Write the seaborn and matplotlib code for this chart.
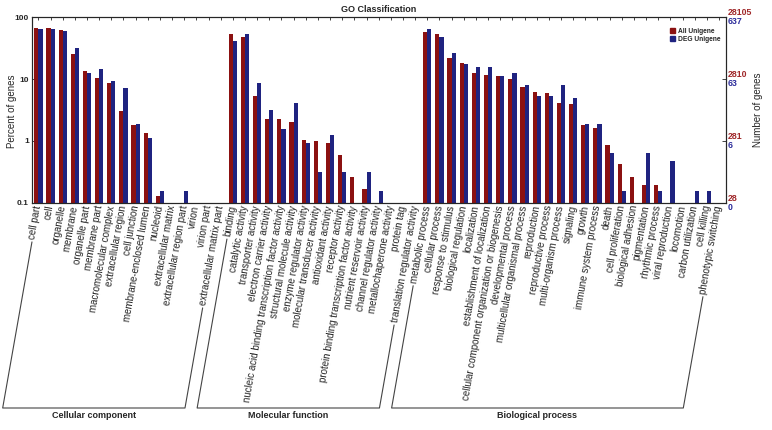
import numpy as np
import pandas as pd
import matplotlib.pyplot as plt
import seaborn as sns
from matplotlib.lines import Line2D
from matplotlib.patches import Patch
from matplotlib.ticker import NullLocator

sns.set_style("white")
plt.rcParams["font.family"] = ["Liberation Sans", "DejaVu Sans"]

# GO terms and percent of genes (All Unigene / DEG Unigene)
cc_terms = ["cell part", "cell", "organelle", "membrane", "organelle part", "membrane part",
            "macromolecular complex", "extracellular region", "cell junction",
            "membrane-enclosed lumen", "nucleoid", "extracellular matrix",
            "extracellular region part", "virion", "virion part", "extracellular matrix part"]
cc_all = [66, 66, 62, 25.8, 13.5, 10.5, 8.7, 3.1, 1.8, 1.36, 0.128, 0, 0, 0, 0, 0]
cc_deg = [64, 64, 60, 31.5, 12.4, 14.4, 9.2, 7.2, 1.88, 1.10, 0.157, 0, 0.157, 0, 0, 0]

mf_terms = ["binding", "catalytic activity", "transporter activity", "electron carrier activity",
            "nucleic acid binding transcription factor activity", "structural molecule activity",
            "enzyme regulator activity", "molecular transducer activity", "antioxidant activity",
            "receptor activity", "protein binding transcription factor activity",
            "nutrient reservoir activity", "channel regulator activity",
            "metallochaperone activity", "protein tag", "translation regulator activity"]
mf_all = [54.3, 47.5, 5.3, 2.24, 2.24, 2.0, 1.02, 1.0, 0.94, 0.6, 0.26, 0.167, 0, 0, 0, 0]
mf_deg = [41.8, 54.3, 8.5, 3.16, 1.57, 4.1, 0.94, 0.314, 1.26, 0.314, 0, 0.314, 0.157, 0, 0, 0]

bp_terms = ["metabolic process", "cellular process", "response to stimulus",
            "biological regulation", "localization", "establishment of localization",
            "cellular component organization or biogenesis", "developmental process",
            "multicellular organismal process", "reproduction", "reproductive process",
            "multi-organism process", "signaling", "growth", "immune system process", "death",
            "cell proliferation", "biological adhesion", "pigmentation", "rhythmic process",
            "viral reproduction", "locomotion", "carbon utilization", "cell killing",
            "phenotypic switching"]
bp_all = [58.5, 54.3, 21.7, 18.0, 12.4, 11.8, 11.3, 9.9, 7.5, 6.1, 6.0, 4.15, 3.95, 1.81, 1.6,
          0.85, 0.43, 0.26, 0.19, 0.19, 0, 0, 0, 0, 0]
bp_deg = [64, 47.5, 26.1, 17.7, 15.9, 15.9, 11.3, 12.4, 7.9, 5.3, 5.3, 8.1, 4.9, 1.88, 1.88,
          0.63, 0.157, 0, 0.63, 0.157, 0.471, 0, 0.157, 0.157, 0]

group_names = ["Cellular component", "Molecular function", "Biological process"]
total_all = 28105
total_deg = 637
decades = [0.1, 1, 10, 100]

red = "#8b1111"
blue = "#1f2380"

terms = cc_terms + mf_terms + bp_terms
df = pd.DataFrame({
    "term": terms * 2,
    "pct": cc_all + mf_all + bp_all + cc_deg + mf_deg + bp_deg,
    "set": ["All Unigene"] * len(terms) + ["DEG Unigene"] * len(terms),
})

fig = plt.figure(figsize=(7.72, 4.30), dpi=100)
W, H = 772, 430
ax = fig.add_axes([31.7 / W, 1 - 202.7 / H, 694 / W, 185.4 / H])
sns.barplot(data=df, x="term", y="pct", hue="set", palette=[red, blue], width=0.68,
            errorbar=None, saturation=1, linewidth=0, ax=ax)
ax.set_yscale("log")
ax.set_ylim(0.1, 100)
ax.set_xlim(-0.55, len(terms) - 0.45)
ax.yaxis.set_minor_locator(NullLocator())
ax.set_yticks(decades)
ax.set_yticklabels(["0.1", "1", "10", "100"], fontsize=6, fontweight="bold")
ax.set_xticks(range(len(terms)))
ax.set_xticklabels(terms, rotation=80, ha="right", va="center", rotation_mode="anchor", fontsize=7)
ax.tick_params(axis="x", top=True, bottom=False, direction="in", length=2.5, width=0.6, pad=2)
ax.tick_params(axis="y", left=True, direction="in", length=3, width=0.6, pad=2)
ax.set_xlabel("")
ax.set_ylabel("")
for s in ax.spines.values():
    s.set_linewidth(0.8)
    s.set_color("#333333")
ax.set_title("GO Classification", fontsize=6.5, fontweight="bold", pad=4)

ax.legend(handles=[Patch(color=red), Patch(color=blue)], labels=["All Unigene", "DEG Unigene"],
          loc="upper right", bbox_to_anchor=(0.998, 0.965), frameon=False,
          prop={"size": 4.8, "weight": "bold"}, handlelength=0.8, handleheight=0.8,
          handletextpad=0.4, labelspacing=0.2, borderaxespad=0.2)

# right axis with gene counts
ax2 = ax.twinx()
ax2.set_yscale("log")
ax2.set_ylim(0.1, 100)
ax2.yaxis.set_minor_locator(NullLocator())
ax2.set_yticks(decades)
ax2.set_yticklabels([])
ax2.tick_params(axis="y", right=True, direction="in", length=3, width=0.6)
for d in decades:
    ax2.text(1.003, d, str(int(total_all * d / 100)), color="#a0282a", fontsize=6.3,
             fontweight="bold", ha="left", va="bottom", transform=ax2.get_yaxis_transform())
    ax2.text(1.003, d, str(int(total_deg * d / 100)), color="#2a2a9a", fontsize=6.3,
             fontweight="bold", ha="left", va="top", transform=ax2.get_yaxis_transform())

fig.text(11.7 / W, 1 - 111 / H, "Percent of genes", rotation=90, ha="center", va="center", fontsize=7)
fig.text(758 / W, 1 - 110 / H, "Number of genes", rotation=90, ha="center", va="center", fontsize=7)

# brackets under the term labels
fig.canvas.draw()
renderer = fig.canvas.get_renderer()
labels = ax.get_xticklabels()
theta = np.deg2rad(80)
y_base = H - 408


def label_start(lbl):
    tmp = fig.text(0, 0, lbl.get_text(), fontsize=lbl.get_fontsize())
    w = tmp.get_window_extent(renderer).width
    tmp.remove()
    x0, y0 = lbl.get_transform().transform(lbl.get_position())
    d = w + 3
    return x0 - d * np.cos(theta), y0 - d * np.sin(theta)


i0 = 0
for name, n in zip(group_names, [len(cc_terms), len(mf_terms), len(bp_terms)]):
    xa, ya = label_start(labels[i0])
    xb, yb = label_start(labels[i0 + n - 1])
    xa2 = xa - (ya - y_base) / np.tan(theta)
    xb2 = xb - (yb - y_base) / np.tan(theta)
    xs = np.array([xa, xa2, xb2, xb]) / W
    ys = np.array([ya, y_base, y_base, yb]) / H
    fig.add_artist(Line2D(xs, ys, color="#444444", linewidth=0.8))
    fig.text((xa2 + xb2) / 2 / W, (y_base - 3) / H, name, ha="center", va="top",
             fontsize=6.5, fontweight="bold")
    i0 += n

fig.savefig("out.png", dpi=100)
